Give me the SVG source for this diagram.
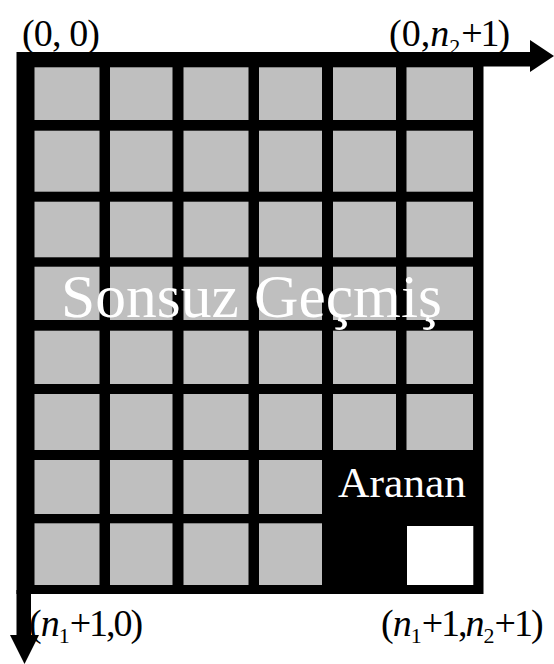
<svg xmlns="http://www.w3.org/2000/svg" width="554" height="664" viewBox="0 0 554 664">
<style>
.cell{fill:#bfbfbf}
.serif{font-family:"Liberation Serif",serif}
.lbl{font-size:38px;fill:#000}
.it{font-style:italic}
.sub{font-size:22px}
.big{fill:#fff}
.tight{letter-spacing:-2px}
</style>
<rect width="554" height="664" fill="#fff"/>
<g id="connectors">
<rect x="480" y="52" width="51" height="14.5" fill="#000"/>
<polygon points="530,40 554,56 530,72" fill="#000"/>
<rect x="16.5" y="590" width="14.5" height="46" fill="#000"/>
<polygon points="10,635 39,635 24.5,664" fill="#000"/>
</g>
<g id="grid">
<rect x="16.5" y="52" width="467" height="542" fill="#000"/>
<g id="row1">
<rect class="cell" x="34.5" y="67.3" width="65" height="52.7"/>
<rect class="cell" x="110" y="67.3" width="62.5" height="52.7"/>
<rect class="cell" x="183.5" y="67.3" width="65" height="52.7"/>
<rect class="cell" x="259" y="67.3" width="63" height="52.7"/>
<rect class="cell" x="333" y="67.3" width="63" height="52.7"/>
<rect class="cell" x="406.5" y="67.3" width="66.5" height="52.7"/>
</g>
<g id="row2">
<rect class="cell" x="34.5" y="130.7" width="65" height="61"/>
<rect class="cell" x="110" y="130.7" width="62.5" height="61"/>
<rect class="cell" x="183.5" y="130.7" width="65" height="61"/>
<rect class="cell" x="259" y="130.7" width="63" height="61"/>
<rect class="cell" x="333" y="130.7" width="63" height="61"/>
<rect class="cell" x="406.5" y="130.7" width="66.5" height="61"/>
</g>
<g id="row3">
<rect class="cell" x="34.5" y="201.7" width="65" height="55.6"/>
<rect class="cell" x="110" y="201.7" width="62.5" height="55.6"/>
<rect class="cell" x="183.5" y="201.7" width="65" height="55.6"/>
<rect class="cell" x="259" y="201.7" width="63" height="55.6"/>
<rect class="cell" x="333" y="201.7" width="63" height="55.6"/>
<rect class="cell" x="406.5" y="201.7" width="66.5" height="55.6"/>
</g>
<g id="row4">
<rect class="cell" x="34.5" y="266.7" width="65" height="53.3"/>
<rect class="cell" x="110" y="266.7" width="62.5" height="53.3"/>
<rect class="cell" x="183.5" y="266.7" width="65" height="53.3"/>
<rect class="cell" x="259" y="266.7" width="63" height="53.3"/>
<rect class="cell" x="333" y="266.7" width="63" height="53.3"/>
<rect class="cell" x="406.5" y="266.7" width="66.5" height="53.3"/>
</g>
<g id="row5">
<rect class="cell" x="34.5" y="330.7" width="65" height="53.3"/>
<rect class="cell" x="110" y="330.7" width="62.5" height="53.3"/>
<rect class="cell" x="183.5" y="330.7" width="65" height="53.3"/>
<rect class="cell" x="259" y="330.7" width="63" height="53.3"/>
<rect class="cell" x="333" y="330.7" width="63" height="53.3"/>
<rect class="cell" x="406.5" y="330.7" width="66.5" height="53.3"/>
</g>
<g id="row6">
<rect class="cell" x="34.5" y="394" width="65" height="56"/>
<rect class="cell" x="110" y="394" width="62.5" height="56"/>
<rect class="cell" x="183.5" y="394" width="65" height="56"/>
<rect class="cell" x="259" y="394" width="63" height="56"/>
<rect class="cell" x="333" y="394" width="63" height="56"/>
<rect class="cell" x="406.5" y="394" width="66.5" height="56"/>
</g>
<g id="row7">
<rect class="cell" x="34.5" y="460" width="65" height="54"/>
<rect class="cell" x="110" y="460" width="62.5" height="54"/>
<rect class="cell" x="183.5" y="460" width="65" height="54"/>
<rect class="cell" x="259" y="460" width="63" height="54"/>
</g>
<g id="row8">
<rect class="cell" x="34.5" y="523.3" width="65" height="61.7"/>
<rect class="cell" x="110" y="523.3" width="62.5" height="61.7"/>
<rect class="cell" x="183.5" y="523.3" width="65" height="61.7"/>
<rect class="cell" x="259" y="523.3" width="63" height="61.7"/>
</g>
<rect id="target" x="407" y="526" width="66.3" height="59" fill="#fff"/>
</g>
<text id="history" class="big serif" x="61" y="317" font-size="62" textLength="381" lengthAdjust="spacingAndGlyphs">Sonsuz Geçmiş</text>
<text id="aranan" class="big serif" x="338" y="497" font-size="42" textLength="128" lengthAdjust="spacingAndGlyphs">Aranan</text>
<g id="labels">
<text class="lbl serif" x="22" y="46" textLength="78" lengthAdjust="spacing">(0, 0)</text>
<text class="lbl serif" x="389" y="46">(0,<tspan class="it">n</tspan><tspan class="sub" dy="8">2</tspan><tspan class="tight" dx="1" dy="-8">+1)</tspan></text>
<text class="lbl serif" x="29" y="636" letter-spacing="-1">(<tspan class="it">n</tspan><tspan class="sub" dy="7">1</tspan><tspan class="tight" dx="1" dy="-7">+1,0)</tspan></text>
<text class="lbl serif" x="381" y="636" letter-spacing="-1">(<tspan class="it">n</tspan><tspan class="sub" dy="7">1</tspan><tspan class="tight" dx="1" dy="-7">+1,</tspan><tspan class="it">n</tspan><tspan class="sub" dy="7">2</tspan><tspan class="tight" dx="1" dy="-7">+1)</tspan></text>
</g>
</svg>
